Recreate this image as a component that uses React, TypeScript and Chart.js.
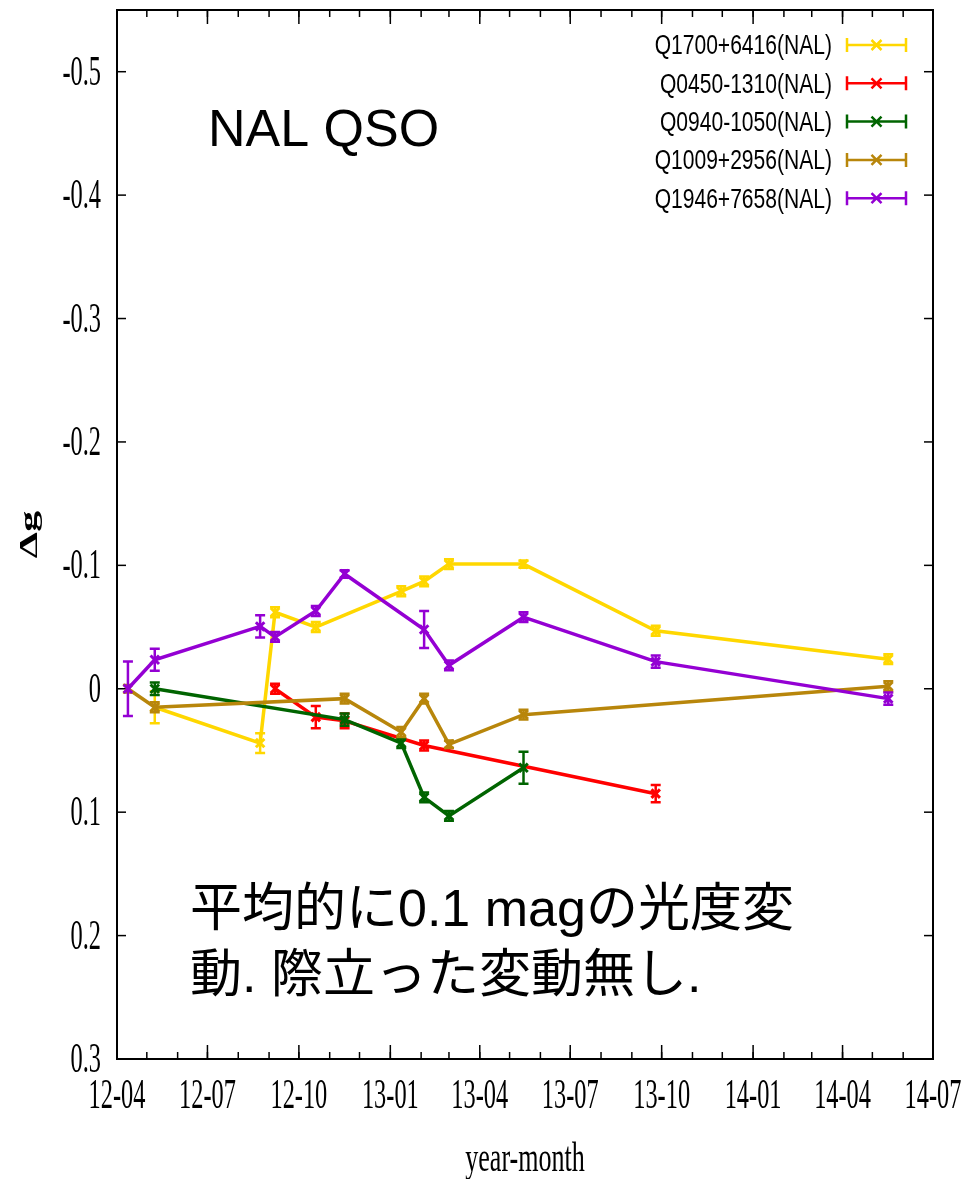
import React, { useEffect, useRef } from "react";
import { Chart, registerables } from "chart.js";

Chart.register(...registerables);

// ---------- data ----------
const SERIES_NAMES = [
  "Q1700+6416(NAL)",
  "Q0450-1310(NAL)",
  "Q0940-1050(NAL)",
  "Q1009+2956(NAL)",
  "Q1946+7658(NAL)",
];
const SERIES_COLORS = ["#ffd700", "#ff0000", "#006400", "#b8860b", "#9400d3"];

const q1700Dates = ["2012-05-09", "2012-08-23", "2012-09-07", "2012-10-18", "2013-01-12", "2013-02-04", "2013-03-01", "2013-05-15", "2013-09-25", "2014-05-17"];
const q1700Dg = [0.015, 0.044, -0.062, -0.05, -0.079, -0.087, -0.101, -0.101, -0.047, -0.024];
const q1700Err = [0.013, 0.008, 0.004, 0.004, 0.004, 0.004, 0.004, 0.003, 0.004, 0.004];

const q0450Dates = ["2012-09-07", "2012-10-18", "2012-11-16", "2013-02-04", "2013-09-25"];
const q0450Dg = [0.0, 0.023, 0.026, 0.046, 0.085];
const q0450Err = [0.004, 0.009, 0.006, 0.004, 0.007];

const q0940Dates = ["2012-05-09", "2012-11-16", "2013-01-12", "2013-02-04", "2013-03-01", "2013-05-15"];
const q0940Dg = [0.0, 0.025, 0.044, 0.088, 0.103, 0.064];
const q0940Err = [0.005, 0.005, 0.004, 0.004, 0.004, 0.013];

const q1009Dates = ["2012-04-12", "2012-05-09", "2012-11-16", "2013-01-12", "2013-02-04", "2013-03-01", "2013-05-15", "2014-05-17"];
const q1009Dg = [0.0, 0.015, 0.008, 0.035, 0.008, 0.045, 0.021, -0.002];
const q1009Err = [0.003, 0.004, 0.004, 0.004, 0.004, 0.003, 0.004, 0.004];

const q1946Dates = ["2012-04-12", "2012-05-09", "2012-08-23", "2012-09-07", "2012-10-18", "2012-11-16", "2013-02-04", "2013-03-01", "2013-05-15", "2013-09-25", "2014-05-17"];
const q1946Dg = [0.0, -0.0235, -0.0505, -0.042, -0.063, -0.093, -0.048, -0.019, -0.058, -0.022, 0.008];
const q1946Err = [0.022, 0.009, 0.009, 0.004, 0.004, 0.003, 0.015, 0.004, 0.004, 0.005, 0.005];

const X_TICK_DATES = ["2012-04-01", "2012-07-01", "2012-10-01", "2013-01-01", "2013-04-01", "2013-07-01", "2013-10-01", "2014-01-01", "2014-04-01", "2014-07-01"];
const X_TICK_LABELS = ["12-04", "12-07", "12-10", "13-01", "13-04", "13-07", "13-10", "14-01", "14-04", "14-07"];
const Y_TICKS = [-0.5, -0.4, -0.3, -0.2, -0.1, 0, 0.1, 0.2, 0.3];
const Y_TICK_LABELS = ["-0.5", "-0.4", "-0.3", "-0.2", "-0.1", "0", "0.1", "0.2", "0.3"];

const X_TITLE = "year-month";
const Y_TITLE = "\u0394g";
const TITLE_TEXT = "NAL QSO";
const NOTE_LINES = ["平均的に0.1 magの光度変", "動. 際立った変動無し."];

// ---------- helpers ----------
const EPOCH = Date.UTC(2012, 3, 1);
const dayOf = (s: string) => {
  const [y, m, d] = s.split("-").map(Number);
  return (Date.UTC(y, m - 1, d) - EPOCH) / 86400000;
};
const monthStarts = (() => {
  const out: string[] = [];
  for (let y = 2012; y <= 2014; y++) {
    for (let m = 1; m <= 12; m++) {
      const s = `${y}-${String(m).padStart(2, "0")}-01`;
      if (dayOf(s) >= 0 && dayOf(s) <= dayOf("2014-07-01")) out.push(s);
    }
  }
  return out;
})();

const SERIES = [
  { dates: q1700Dates, vals: q1700Dg, errs: q1700Err },
  { dates: q0450Dates, vals: q0450Dg, errs: q0450Err },
  { dates: q0940Dates, vals: q0940Dg, errs: q0940Err },
  { dates: q1009Dates, vals: q1009Dg, errs: q1009Err },
  { dates: q1946Dates, vals: q1946Dg, errs: q1946Err },
];

const SERIF = "'Liberation Serif', 'Times New Roman', serif";
const SANS = "'Liberation Sans', Arial, sans-serif";
const SQUEEZE = 0.58;

function drawSqueezed(ctx: CanvasRenderingContext2D, text: string, x: number, y: number, sx: number, align: CanvasTextAlign) {
  ctx.save();
  ctx.translate(x, y);
  ctx.scale(sx, 1);
  ctx.textAlign = align;
  ctx.fillText(text, 0, 0);
  ctx.restore();
}

const framePlugin = {
  id: "gnuFrame",
  beforeDatasetsDraw(chart: any) {
    const { ctx, chartArea: a } = chart;
    const xs = chart.scales.x;
    const ys = chart.scales.y;
    ctx.save();
    ctx.strokeStyle = "#000";
    ctx.lineWidth = 2;
    ctx.strokeRect(a.left, a.top, a.right - a.left, a.bottom - a.top);
    ctx.lineWidth = 1.5;
    const line = (x1: number, y1: number, x2: number, y2: number) => {
      ctx.beginPath();
      ctx.moveTo(x1, y1);
      ctx.lineTo(x2, y2);
      ctx.stroke();
    };
    monthStarts.forEach((d) => {
      const px = xs.getPixelForValue(dayOf(d));
      line(px, a.bottom, px, a.bottom - 7);
      line(px, a.top, px, a.top + 7);
    });
    X_TICK_DATES.forEach((d) => {
      const px = xs.getPixelForValue(dayOf(d));
      line(px, a.bottom, px, a.bottom - 14);
      line(px, a.top, px, a.top + 14);
    });
    Y_TICKS.forEach((v) => {
      const py = ys.getPixelForValue(v);
      line(a.left, py, a.left + 9, py);
      line(a.right, py, a.right - 9, py);
    });
    ctx.fillStyle = "#000";
    ctx.textBaseline = "middle";
    ctx.font = `42px ${SERIF}`;
    X_TICK_DATES.forEach((d, i) => {
      const px = xs.getPixelForValue(dayOf(d));
      drawSqueezed(ctx, X_TICK_LABELS[i], px, a.bottom + 38, SQUEEZE, "center");
    });
    Y_TICKS.forEach((v, i) => {
      const py = ys.getPixelForValue(v);
      drawSqueezed(ctx, Y_TICK_LABELS[i], a.left - 16, py + 2, SQUEEZE, "right");
    });
    // axis titles
    drawSqueezed(ctx, X_TITLE, (a.left + a.right) / 2, a.bottom + 101, 0.62, "center");
    ctx.save();
    ctx.translate(31, (a.top + a.bottom) / 2);
    ctx.scale(SQUEEZE, 1);
    ctx.rotate(-Math.PI / 2);
    ctx.textAlign = "center";
    ctx.font = `bold 42px ${SERIF}`;
    ctx.fillText(Y_TITLE, 0, 0);
    ctx.restore();
    ctx.restore();
  },
  afterDatasetDraw(chart: any, args: any) {
    const { ctx } = chart;
    const ys = chart.scales.y;
    const s = SERIES[args.index];
    const color = SERIES_COLORS[args.index];
    ctx.save();
    ctx.strokeStyle = color;
    ctx.lineWidth = 2.5;
    args.meta.data.forEach((pt: any, i: number) => {
      const y1 = ys.getPixelForValue(s.vals[i] - s.errs[i]);
      const y2 = ys.getPixelForValue(s.vals[i] + s.errs[i]);
      ctx.beginPath();
      ctx.moveTo(pt.x, y1);
      ctx.lineTo(pt.x, y2);
      ctx.moveTo(pt.x - 5, y1);
      ctx.lineTo(pt.x + 5, y1);
      ctx.moveTo(pt.x - 5, y2);
      ctx.lineTo(pt.x + 5, y2);
      ctx.stroke();
    });
    ctx.restore();
  },
  afterDraw(chart: any) {
    const { ctx, chartArea: a } = chart;
    ctx.save();
    // legend
    chart.data.datasets.forEach((ds: any, i: number) => {
      const y = a.top + 35 + i * 38.3;
      ctx.fillStyle = "#000";
      ctx.textBaseline = "middle";
      ctx.font = `27px ${SANS}`;
      drawSqueezed(ctx, ds.label, a.right - 101, y + 2, 0.78, "right");
      const x1 = a.right - 86;
      const x2 = a.right - 27;
      const xm = (x1 + x2) / 2;
      ctx.strokeStyle = SERIES_COLORS[i];
      ctx.lineWidth = 2.5;
      ctx.beginPath();
      ctx.moveTo(x1, y);
      ctx.lineTo(x2, y);
      ctx.moveTo(x1, y - 7);
      ctx.lineTo(x1, y + 7);
      ctx.moveTo(x2, y - 7);
      ctx.lineTo(x2, y + 7);
      ctx.moveTo(xm - 5, y - 5);
      ctx.lineTo(xm + 5, y + 5);
      ctx.moveTo(xm - 5, y + 5);
      ctx.lineTo(xm + 5, y - 5);
      ctx.stroke();
    });
    // annotation texts
    ctx.fillStyle = "#000";
    ctx.textAlign = "left";
    ctx.textBaseline = "alphabetic";
    ctx.font = `52px ${SANS}`;
    ctx.fillText(TITLE_TEXT, 208, 146);
    ctx.font = `52px 'Liberation Sans', 'Noto Sans CJK JP', sans-serif`;
    NOTE_LINES.forEach((t, i) => ctx.fillText(t, 190, 926 + i * 66));
    ctx.restore();
  },
};

export default function App() {
  const ref = useRef<HTMLCanvasElement | null>(null);
  useEffect(() => {
    document.body.style.margin = "0";
    const canvas = ref.current;
    if (!canvas) return;
    const n = SERIES.length;
    const chart = new Chart(canvas, {
      type: "line",
      data: {
        datasets: SERIES.map((s, i) => ({
          label: SERIES_NAMES[i],
          data: s.dates.map((d, j) => ({ x: dayOf(d), y: s.vals[j] })),
          borderColor: SERIES_COLORS[i],
          backgroundColor: SERIES_COLORS[i],
          borderWidth: 3.5,
          pointStyle: "crossRot",
          pointRadius: 6,
          pointBorderWidth: 3,
          pointBorderColor: SERIES_COLORS[i],
          tension: 0,
          fill: false,
          order: n - i,
        })),
      },
      options: {
        animation: false,
        responsive: false,
        devicePixelRatio: 1,
        layout: { padding: { left: 0, right: 30, top: 10, bottom: 0 } },
        plugins: { legend: { display: false }, tooltip: { enabled: false } },
        scales: {
          x: {
            type: "linear",
            min: 0,
            max: dayOf(X_TICK_DATES[X_TICK_DATES.length - 1]),
            grid: { display: false },
            border: { display: false },
            ticks: { display: false },
            afterBuildTicks: (s: any) => {
              s.ticks = X_TICK_DATES.map((d) => ({ value: dayOf(d) }));
            },
            afterFit: (s: any) => {
              s.height = 120;
            },
          },
          y: {
            type: "linear",
            min: -0.55,
            max: 0.3,
            reverse: true,
            grid: { display: false },
            border: { display: false },
            ticks: { display: false },
            afterBuildTicks: (s: any) => {
              s.ticks = Y_TICKS.map((v) => ({ value: v }));
            },
            afterFit: (s: any) => {
              s.width = 117;
            },
          },
        },
      },
      plugins: [framePlugin],
    });
    return () => chart.destroy();
  }, []);
  return (
    <div style={{ width: 963, height: 1179, background: "#fff" }}>
      <canvas ref={ref} width={963} height={1179} style={{ width: 963, height: 1179, display: "block" }} />
    </div>
  );
}
